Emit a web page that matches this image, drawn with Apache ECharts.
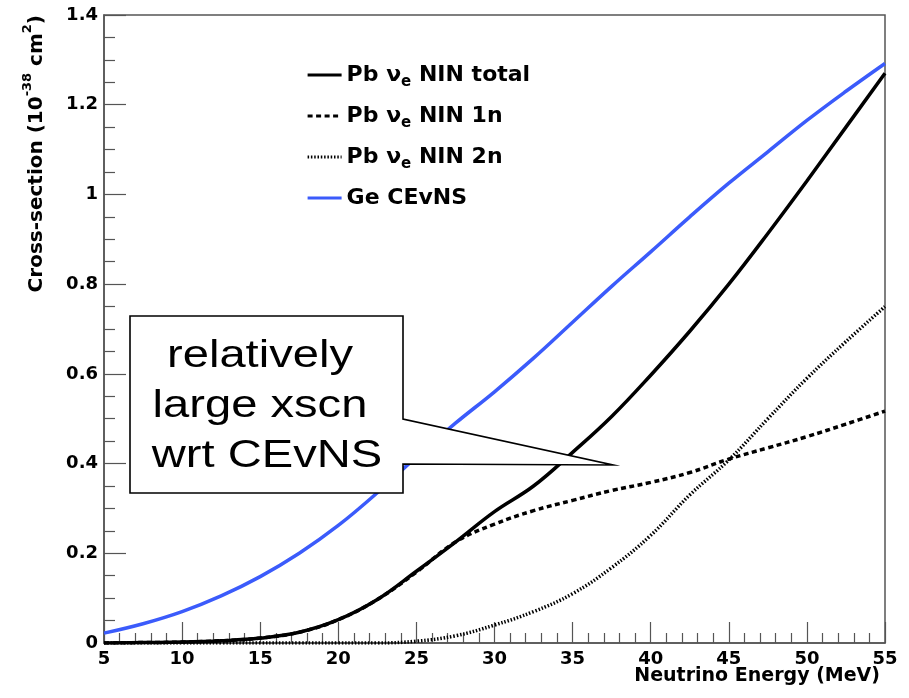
<!DOCTYPE html>
<html>
<head>
<meta charset="utf-8">
<script src="https://cdn.jsdelivr.net/npm/echarts@6/dist/echarts.min.js"></script>
<style>
html,body{margin:0;padding:0;background:#fff;}
#chart{width:909px;height:698px;}
</style>
</head>
<body>
<div id="chart"></div>
<script>
// ---- Data ----
var energy = [5, 7.5, 10, 12.5, 15, 17.5, 20, 22.5, 25, 27.5, 30, 32.5, 35, 37.5, 40, 42.5, 45, 47.5, 50, 52.5, 55];
var pbTotal = [0, 0.001, 0.002, 0.005, 0.011, 0.024, 0.052, 0.097, 0.16, 0.225, 0.293, 0.35, 0.425, 0.505, 0.597, 0.695, 0.8, 0.913, 1.03, 1.15, 1.27];
var pb1n    = [0, 0.001, 0.002, 0.005, 0.011, 0.024, 0.052, 0.097, 0.158, 0.225, 0.265, 0.295, 0.318, 0.34, 0.358, 0.38, 0.41, 0.435, 0.46, 0.488, 0.517];
var pb2n    = [0, 0, 0, 0, 0, 0, 0, 0, 0.004, 0.016, 0.04, 0.07, 0.11, 0.168, 0.24, 0.33, 0.408, 0.5, 0.59, 0.672, 0.75];
var geCevns = [0.022, 0.043, 0.07, 0.105, 0.148, 0.2, 0.262, 0.335, 0.415, 0.49, 0.56, 0.635, 0.715, 0.795, 0.872, 0.95, 1.025, 1.095, 1.165, 1.23, 1.292];

var seriesNames = ['Pb νe NIN total', 'Pb νe NIN 1n', 'Pb νe NIN 2n', 'Ge CEvNS'];
var xTitle = 'Neutrino Energy (MeV)';
var calloutLines = ['relatively', 'large xscn', 'wrt CEvNS'];

function pairs(ys) { return energy.map(function (e, i) { return [e, ys[i]]; }); }

var chart = echarts.init(document.getElementById('chart'), null, {renderer: 'canvas'});
var axisColor = '#555';
var tickFont = '"DejaVu Sans", sans-serif';

var option = {
  backgroundColor: '#fff',
  animation: false,
  grid: {left: 104, right: 24, top: 15, bottom: 55, outerBoundsMode: 'none', containLabel: false,
         show: true, borderColor: axisColor, borderWidth: 1.5, backgroundColor: '#fff'},
  legend: {
    orient: 'vertical', left: 306, top: 64, padding: 0,
    itemWidth: 34, itemHeight: 14, itemGap: 15,
    data: seriesNames,
    itemStyle: {color: 'rgba(0,0,0,0)', borderColor: 'rgba(0,0,0,0)', borderWidth: 0},
    lineStyle: {width: 3.2},
    formatter: function (name) {
      if (name.indexOf('νe') >= 0) {
        var parts = name.split('νe');
        return '{m|' + parts[0] + 'ν}{s|e}{m|' + parts[1] + '}';
      }
      return '{m|' + name + '}';
    },
    textStyle: {
      color: '#000',
      rich: {
        m: {fontFamily: tickFont, fontWeight: 'bold', fontSize: 22, lineHeight: 30, color: '#000', verticalAlign: 'middle'},
        s: {fontFamily: tickFont, fontWeight: 'bold', fontSize: 15, lineHeight: 15, color: '#000', verticalAlign: 'bottom'}
      }
    }
  },
  xAxis: {
    type: 'value', min: 5, max: 55, interval: 5,
    axisLine: {show: true, onZero: false, lineStyle: {color: axisColor, width: 1.5}},
    axisTick: {show: true, inside: true, length: 21, lineStyle: {color: axisColor, width: 1.2}},
    minorTick: {show: true, splitNumber: 5, length: 10, lineStyle: {color: axisColor, width: 1.2}},
    splitLine: {show: false},
    axisLabel: {fontFamily: tickFont, fontWeight: 'bold', fontSize: 18, color: '#000', margin: 7, showMaxLabel: true, showMinLabel: true}
  },
  yAxis: {
    type: 'value', min: 0, max: 1.4, interval: 0.2,
    axisLine: {show: true, onZero: false, lineStyle: {color: axisColor, width: 1.5}},
    axisTick: {show: true, inside: true, length: 22, lineStyle: {color: axisColor, width: 1.2}},
    minorTick: {show: true, splitNumber: 4, length: 11, lineStyle: {color: axisColor, width: 1.2}},
    splitLine: {show: false},
    axisLabel: {fontFamily: tickFont, fontWeight: 'bold', fontSize: 18, color: '#000', margin: 6, showMaxLabel: true, showMinLabel: true}
  },
  series: [
    {name: seriesNames[0], type: 'line', data: pairs(pbTotal), symbol: 'none', smooth: 0.4, z: 4,
     lineStyle: {color: '#000', width: 3.5}, itemStyle: {color: '#000'}},
    {name: seriesNames[1], type: 'line', data: pairs(pb1n), symbol: 'none', smooth: 0.4, z: 3,
     lineStyle: {color: '#000', width: 3.5, type: [5, 3.5]}, itemStyle: {color: '#000'}},
    {name: seriesNames[2], type: 'line', data: pairs(pb2n), symbol: 'none', smooth: 0.4, z: 3,
     lineStyle: {color: '#000', width: 3.5, type: [1.5, 1.8]}, itemStyle: {color: '#000'}},
    {name: seriesNames[3], type: 'line', data: pairs(geCevns), symbol: 'none', smooth: 0.4, z: 3,
     lineStyle: {color: '#3b5bfb', width: 3.5}, itemStyle: {color: '#3b5bfb'}}
  ],
  graphic: [
    {type: 'text', x: 880, y: 676, z: 10,
     style: {text: xTitle, font: 'bold 19px "DejaVu Sans", sans-serif', fill: '#000', align: 'right', verticalAlign: 'middle'}},
    {type: 'text', x: 34, y: 15, rotation: Math.PI / 2, z: 10,
     style: {
       text: '{m|Cross-section (10}{s|-38}{m| cm}{s|2}{m|)}',
       align: 'right', verticalAlign: 'middle',
       rich: {
         m: {fontFamily: tickFont, fontWeight: 'bold', fontSize: 20, lineHeight: 26, fill: '#000', verticalAlign: 'bottom'},
         s: {fontFamily: tickFont, fontWeight: 'bold', fontSize: 13, lineHeight: 13, fill: '#000', verticalAlign: 'top'}
       }
     }},
    {type: 'polygon', z: 20,
     shape: {points: [[130, 316], [403, 316], [403, 419], [613, 465], [403, 464], [403, 493], [130, 493]]},
     style: {fill: '#fff', stroke: '#000', lineWidth: 1.6}},
    {type: 'text', x: 260, y: 357, scaleX: 1.24, z: 21,
     style: {text: calloutLines[0], font: '38px "Liberation Sans", Arial, sans-serif', fill: '#000', align: 'center', verticalAlign: 'middle'}},
    {type: 'text', x: 260, y: 407, scaleX: 1.24, z: 21,
     style: {text: calloutLines[1], font: '38px "Liberation Sans", Arial, sans-serif', fill: '#000', align: 'center', verticalAlign: 'middle'}},
    {type: 'text', x: 267, y: 457, scaleX: 1.24, z: 21,
     style: {text: calloutLines[2], font: '38px "Liberation Sans", Arial, sans-serif', fill: '#000', align: 'center', verticalAlign: 'middle'}}
  ]
};
chart.setOption(option);
</script>
</body>
</html>
